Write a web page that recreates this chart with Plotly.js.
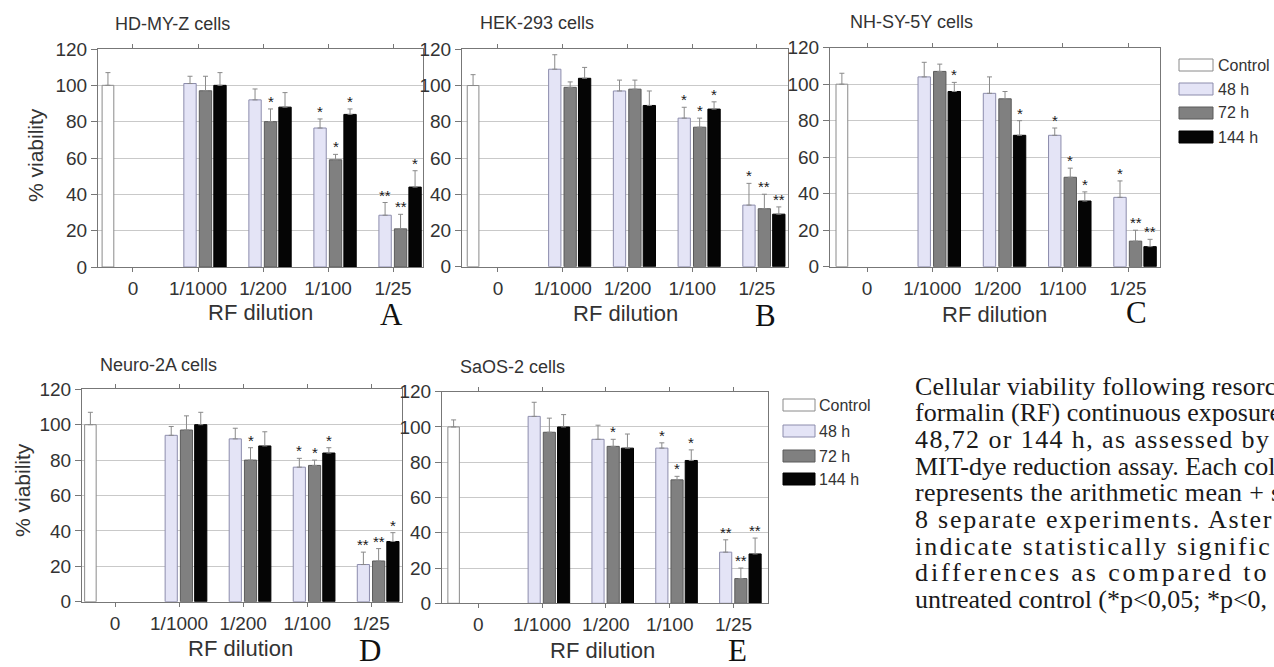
<!DOCTYPE html>
<html>
<head>
<meta charset="utf-8">
<script src="https://cdn.plot.ly/plotly-3.0.1.min.js"></script>
<style>
  html, body { margin: 0; padding: 0; background: #ffffff; }
  #chart { width: 1274px; height: 667px; }
</style>
</head>
<body>
<div id="chart"></div>
<script>
// ---------------- DATA ----------------
const categories = ['0', '1/1000', '1/200', '1/100', '1/25'];
const dilutions = ['1/1000', '1/200', '1/100', '1/25'];
const seriesNames = ['Control', '48 h', '72 h', '144 h'];
const panelTitles = ['HD-MY-Z cells', 'HEK-293 cells', 'NH-SY-5Y cells', 'Neuro-2A cells', 'SaOS-2 cells'];
const panelLetters = ['A', 'B', 'C', 'D', 'E'];

// Control (dilution 0) mean and SD for each panel A..E
const controlMean = [100, 100, 100, 100, 100];
const controlErr = [7, 6, 6, 7, 4];

// Panel A: HD-MY-Z
const a48 = [101, 92, 76.5, 28.5];   const a48Err = [4, 6, 5, 7];   const a48Sig = ['', '', '*', '**'];
const a72 = [97, 80, 59, 21];        const a72Err = [8, 7, 3, 8];   const a72Sig = ['', '*', '*', '**'];
const a144 = [100, 88, 84, 44];      const a144Err = [7, 8, 3, 9];  const a144Sig = ['', '', '*', '*'];
// Panel B: HEK-293
const b48 = [109, 97, 82, 34];       const b48Err = [8, 6, 6, 12];  const b48Sig = ['', '', '*', '*'];
const b72 = [99, 98, 77, 32];        const b72Err = [3, 5, 5, 8];   const b72Sig = ['', '', '*', '**'];
const b144 = [104, 89, 87, 29];      const b144Err = [6, 8, 4, 4];  const b144Sig = ['', '', '*', '**'];
// Panel C: NH-SY-5Y
const c48 = [104, 95, 72, 38];       const c48Err = [8, 9, 4, 9];   const c48Sig = ['', '', '*', '*'];
const c72 = [107, 92, 49, 14];       const c72Err = [4, 4, 5, 6];   const c72Sig = ['', '', '*', '**'];
const c144 = [96, 72, 36, 11];       const c144Err = [5, 8, 5, 4];  const c144Sig = ['*', '*', '*', '**'];
// Panel D: Neuro-2A
const d48 = [94, 92, 76, 21];        const d48Err = [5, 6, 5, 7];   const d48Sig = ['', '', '*', '**'];
const d72 = [97, 80, 77, 23];        const d72Err = [8, 7, 3, 7];   const d72Sig = ['', '*', '*', '**'];
const d144 = [100, 88, 84, 34];      const d144Err = [7, 8, 3, 5];  const d144Sig = ['', '', '*', '*'];
// Panel E: SaOS-2
const e48 = [106, 93, 88, 29];       const e48Err = [8, 8, 3, 7];   const e48Sig = ['', '', '*', '**'];
const e72 = [97, 89, 70, 14];        const e72Err = [8, 4, 2, 6];   const e72Sig = ['', '*', '*', '**'];
const e144 = [100, 88, 81, 28];      const e144Err = [7, 8, 6, 9];  const e144Sig = ['', '', '*', '**'];

const captionLines = [
  'Cellular viability following resorc',
  'formalin (RF) continuous exposure',
  '48,72 or 144 h, as assessed by',
  'MIT-dye reduction assay. Each col',
  'represents the arithmetic mean + s',
  '8 separate experiments. Aster',
  'indicate statistically signific',
  'differences as compared to',
  'untreated control (*p<0,05; *p<0,'
];

// ---------------- BUILD ----------------
const W = 1274, H = 667;
const px = v => v / W;
const py = v => 1 - v / H;

const panelSeries = [
  [[a48, a48Err, a48Sig], [a72, a72Err, a72Sig], [a144, a144Err, a144Sig]],
  [[b48, b48Err, b48Sig], [b72, b72Err, b72Sig], [b144, b144Err, b144Sig]],
  [[c48, c48Err, c48Sig], [c72, c72Err, c72Sig], [c144, c144Err, c144Sig]],
  [[d48, d48Err, d48Sig], [d72, d72Err, d72Sig], [d144, d144Err, d144Sig]],
  [[e48, e48Err, e48Sig], [e72, e72Err, e72Sig], [e144, e144Err, e144Sig]]
];

// panel geometry (pixels in the 1274x667 page)
const geom = [
  { x: [98, 423],  y: [49, 267],     r: [-0.538, 4.46] },
  { x: [462, 788], y: [49.3, 266.7], r: [-0.556, 4.48] },
  { x: [830, 1160], y: [47.7, 266.7], r: [-0.567, 4.49] },
  { x: [82, 402],  y: [389.3, 601.7], r: [-0.516, 4.48] },
  { x: [442, 768], y: [391.7, 603.3], r: [-0.567, 4.54] }
];

const styles = [
  { fill: '#ffffff', line: '#8a8a8a', offset: -0.475, width: 0.18 },
  { fill: '#e4e4f6', line: '#8c8cac', offset: -0.218, width: 0.19 },
  { fill: '#808080', line: '#5a5a5a', offset: 0.02, width: 0.19 },
  { fill: '#050505', line: '#000000', offset: 0.243, width: 0.19 }
];

const FONT = 'Liberation Sans, Arial, sans-serif';
const SERIF = 'Liberation Serif, Times New Roman, serif';
const TXT = '#333333';

const traces = [];
const annotations = [];
const shapes = [];
const layout = {
  width: W, height: H,
  margin: { l: 0, r: 0, t: 0, b: 0 },
  paper_bgcolor: '#ffffff', plot_bgcolor: '#ffffff',
  barmode: 'overlay',
  showlegend: false,
  font: { family: FONT, color: TXT, size: 18 },
  annotations: annotations,
  shapes: shapes
};

const xLabelPos = [[260, 312], [625, 313], [994, 314], [240, 648], [602, 650]];
const titlePos = [[113, 24], [478, 23], [848, 22], [98, 365], [458, 367]];
const letterPos = [[391, 314], [765, 315], [1136, 312], [370, 650], [737, 650]];

for (let p = 0; p < 5; p++) {
  const sfx = p === 0 ? '' : String(p + 1);
  const xa = 'x' + sfx, ya = 'y' + sfx;
  const g = geom[p];

  // control bar at dilution 0
  traces.push({
    type: 'bar', name: seriesNames[0], x: [0], y: [controlMean[p]],
    xaxis: xa, yaxis: ya, offset: styles[0].offset, width: styles[0].width,
    marker: { color: styles[0].fill, line: { color: styles[0].line, width: 1 } },
    error_y: { type: 'data', symmetric: false, array: [controlErr[p]], arrayminus: [0],
               color: '#8a8a8a', thickness: 1, width: 2.5 },
    hovertemplate: panelTitles[p] + '<br>Control: %{y}<extra></extra>'
  });

  // treated series
  for (let s = 0; s < 3; s++) {
    const [vals, errs, sigs] = panelSeries[p][s];
    const st = styles[s + 1];
    const xs = dilutions.map(d => categories.indexOf(d));
    traces.push({
      type: 'bar', name: seriesNames[s + 1], x: xs, y: vals,
      xaxis: xa, yaxis: ya, offset: st.offset, width: st.width,
      marker: { color: st.fill, line: { color: st.line, width: 1 } },
      error_y: { type: 'data', symmetric: false, array: errs, arrayminus: errs.map(() => 0),
                 color: '#8a8a8a', thickness: 1, width: 2.5 },
      hovertemplate: panelTitles[p] + '<br>' + seriesNames[s + 1] + ' %{x}: %{y}<extra></extra>'
    });
    // significance asterisks
    vals.forEach((v, i) => {
      if (!sigs[i]) return;
      annotations.push({
        xref: xa, yref: ya, x: xs[i] + st.offset + st.width / 2, y: v + errs[i],
        text: sigs[i], showarrow: false, yanchor: 'bottom', xanchor: 'center', yshift: -3,
        font: { family: FONT, size: 15, color: '#1a1a1a' }
      });
    });
  }

  layout['xaxis' + sfx] = {
    domain: [px(g.x[0]), px(g.x[1])], anchor: ya, range: g.r,
    tickmode: 'array', tickvals: categories.map((c, i) => i), ticktext: categories,
    ticks: 'outside', ticklen: 4, tickcolor: '#777', tickwidth: 1,
    showline: true, linecolor: '#777', linewidth: 1, mirror: 'ticks',
    showgrid: false, zeroline: false, fixedrange: true,
    tickfont: { family: FONT, size: 19, color: TXT }
  };
  layout['yaxis' + sfx] = {
    domain: [py(g.y[1]), py(g.y[0])], anchor: xa, range: [0, 120],
    tickmode: 'linear', tick0: 0, dtick: 20,
    ticks: 'outside', ticklen: 6, tickcolor: '#777', tickwidth: 1,
    showline: true, linecolor: '#777', linewidth: 1, mirror: true,
    showgrid: true, gridcolor: '#c9c9c9', gridwidth: 1, zeroline: false, fixedrange: true,
    tickfont: { family: FONT, size: 19, color: TXT }
  };

  // panel title
  annotations.push({
    xref: 'paper', yref: 'paper', x: px(titlePos[p][0]), y: py(titlePos[p][1]),
    xanchor: 'left', yanchor: 'middle', text: panelTitles[p], showarrow: false,
    font: { family: FONT, size: 18, color: TXT }
  });
  // x axis title
  annotations.push({
    xref: 'paper', yref: 'paper', x: px(xLabelPos[p][0]), y: py(xLabelPos[p][1]),
    xanchor: 'center', yanchor: 'middle', text: 'RF dilution', showarrow: false,
    font: { family: FONT, size: 22, color: TXT }
  });
  // panel letter
  annotations.push({
    xref: 'paper', yref: 'paper', x: px(letterPos[p][0]), y: py(letterPos[p][1]),
    xanchor: 'center', yanchor: 'middle', text: panelLetters[p], showarrow: false,
    font: { family: SERIF, size: 31, color: '#111' }
  });
}

// y axis titles (panels A and D)
[[35, 155], [22, 490]].forEach(pos => {
  annotations.push({
    xref: 'paper', yref: 'paper', x: px(pos[0]), y: py(pos[1]),
    xanchor: 'center', yanchor: 'middle', text: '% viability', textangle: -90, showarrow: false,
    font: { family: FONT, size: 21, color: TXT }
  });
});

// legends (panel C and panel E)
const legendSpots = [
  { x: 1179, w: 34, rows: [65, 89, 113, 137], tx: 1216 },
  { x: 783, w: 32, rows: [405, 431, 456, 479], tx: 817 }
];
legendSpots.forEach(L => {
  seriesNames.forEach((name, k) => {
    const st = styles[k];
    shapes.push({
      type: 'rect', xref: 'paper', yref: 'paper',
      x0: px(L.x), x1: px(L.x + L.w), y0: py(L.rows[k] + 6), y1: py(L.rows[k] - 6),
      fillcolor: st.fill, line: { color: st.line, width: 1 }
    });
    annotations.push({
      xref: 'paper', yref: 'paper', x: px(L.tx), y: py(L.rows[k]),
      xanchor: 'left', yanchor: 'middle', text: name, showarrow: false,
      font: { family: FONT, size: 16, color: TXT }
    });
  });
});

// caption (justified lines get extra letter spacing, as in the reference)
const captionSpacing = [0.2, 0, 1.4, 0, 0.3, 1.8, 2.1, 2.9, 0];
captionLines.forEach((line, i) => {
  const txt = captionSpacing[i] > 0
    ? '<span style="letter-spacing:' + captionSpacing[i] + 'px">' + line + '</span>'
    : line;
  annotations.push({
    xref: 'paper', yref: 'paper', x: px(913), y: py(386 + i * 26.7),
    xanchor: 'left', yanchor: 'middle', text: txt, showarrow: false,
    font: { family: SERIF, size: 26, color: '#1a1a1a' }
  });
});

Plotly.newPlot('chart', traces, layout, { displayModeBar: false, staticPlot: true });
</script>
</body>
</html>
